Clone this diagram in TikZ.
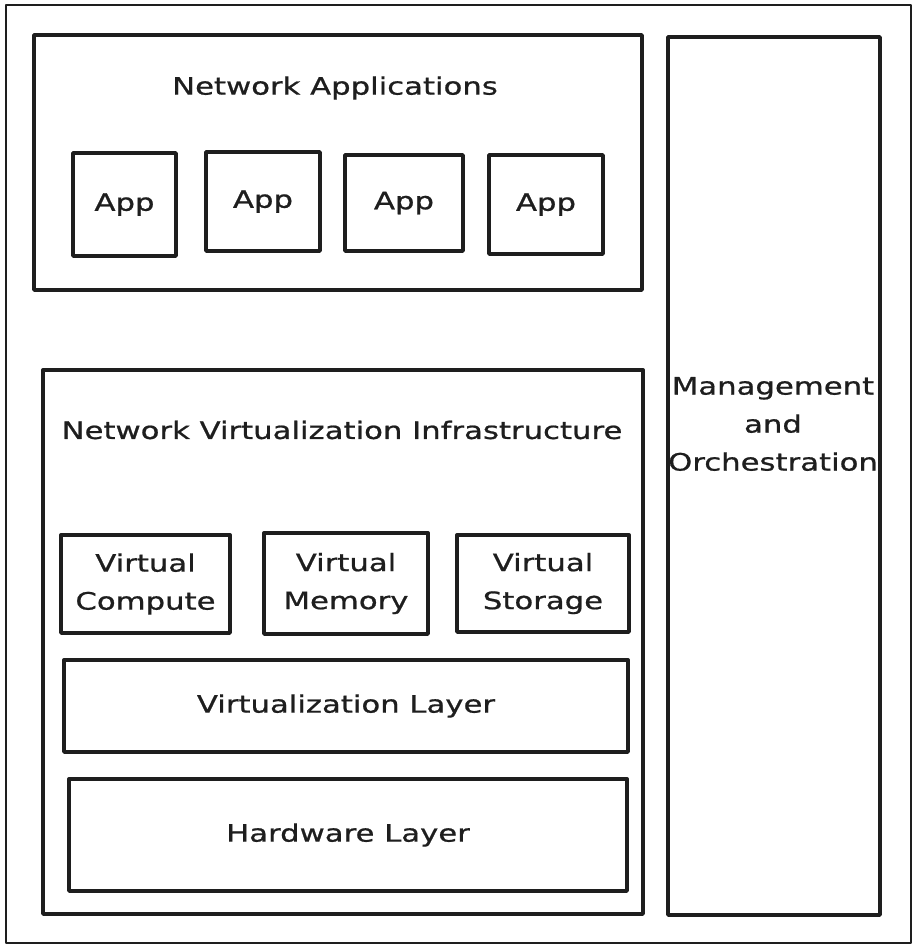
\documentclass[tikz,border=0pt]{standalone}
\usepackage{fontspec}
\setmainfont[FakeStretch=1.28,FakeBold=0.8]{DejaVu Sans}
\definecolor{ink}{HTML}{1E1E1E}
\begin{document}
\begin{tikzpicture}[x=1pt,y=-1pt,
  box/.style={draw=ink, line width=3.4pt, line join=round, inner sep=0pt, fill=white},
  lbl/.style={text=ink, font=\fontsize{24}{38}\selectfont, align=center, inner sep=0pt}]
\useasboundingbox (0,0) rectangle (912,946);

% outer frame
\node[box, line width=2.6pt, minimum width=905pt, minimum height=938pt] (frame) at (458.5,474) {};

% network applications
\node[box, minimum width=608pt, minimum height=255pt] (netapps) at (338,162.5) {};
\node[lbl] (netappsT) at (335,88) {Network Applications};
\node[box, lbl, minimum width=103pt, minimum height=103pt] (app1) at (124.5,204.5) {App};
\node[box, lbl, minimum width=114pt, minimum height=99pt] (app2) at (263,201.5) {App};
\node[box, lbl, minimum width=118pt, minimum height=96pt] (app3) at (404,203) {App};
\node[box, lbl, minimum width=114pt, minimum height=99pt] (app4) at (546,204.5) {App};

% management and orchestration
\node[box, minimum width=212pt, minimum height=878pt] (mgmt) at (774,476) {};
\node[lbl] (mgmtT) at (773,424) {Management\\and\\Orchestration};

% network virtualization infrastructure
\node[box, minimum width=600pt, minimum height=544pt] (nvi) at (343,642) {};
\node[lbl] (nviT) at (342,430) {Network Virtualization Infrastructure};
\node[box, lbl, minimum width=169pt, minimum height=98pt] (vc) at (145.5,584) {Virtual\\Compute};
\node[box, lbl, minimum width=164pt, minimum height=101pt] (vm) at (346,583.5) {Virtual\\Memory};
\node[box, lbl, minimum width=172pt, minimum height=97pt] (vs) at (543,583.5) {Virtual\\Storage};
\node[box, lbl, minimum width=564pt, minimum height=92pt] (vl) at (346,706) {Virtualization Layer};
\node[box, lbl, minimum width=558pt, minimum height=112pt] (hw) at (348,835) {Hardware Layer};
\end{tikzpicture}
\end{document}
